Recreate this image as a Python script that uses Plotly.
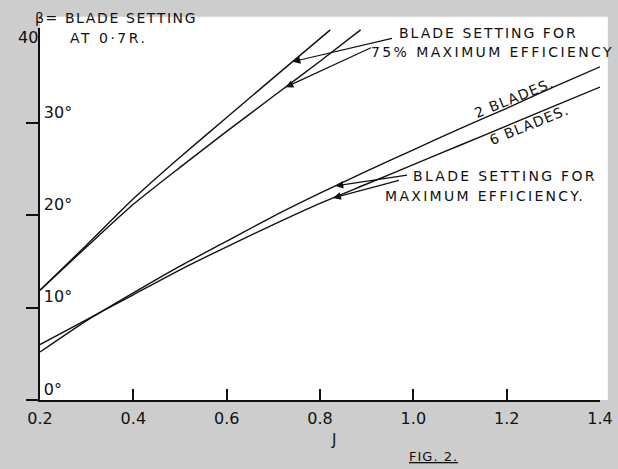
import numpy as np
import plotly.graph_objects as go

# ---- data ----
J_MAX = [0.2, 0.3, 0.4, 0.5, 0.6, 0.7, 0.8, 0.9, 1.0, 1.1, 1.2, 1.3, 1.4]
BETA_MAX_2 = [5.2, 8.6, 11.6, 14.5, 17.2, 19.9, 22.4, 24.8, 27.1, 29.4, 31.6, 33.9, 36.1]
BETA_MAX_6 = [6.0, 8.7, 11.4, 14.1, 16.6, 19.0, 21.3, 23.4, 25.5, 27.6, 29.7, 31.8, 33.9]

J_75_A = [0.2, 0.3, 0.4, 0.5, 0.6, 0.7, 0.822]
BETA_75_A = [11.9, 16.8, 21.8, 26.3, 30.6, 34.9, 40.1]
J_75_B = [0.2, 0.3, 0.4, 0.5, 0.6, 0.7, 0.8, 0.887]
BETA_75_B = [11.9, 16.6, 21.2, 25.2, 29.1, 32.9, 36.7, 40.1]

X_TICKS = [0.2, 0.4, 0.6, 0.8, 1.0, 1.2, 1.4]
X_TICK_TEXT = ["0.2", "0.4", "0.6", "0.8", "1.0", "1.2", "1.4"]
Y_TICKS = [0, 10, 20, 30]
Y_TICK_TEXT = ["0°", "10°", "20°", "30°"]

FONT = "DejaVu Sans"
INK = "#111111"
PAPER = "#cdcdcd"

fig = go.Figure()
line_style = dict(color=INK, width=1.4, shape="spline", smoothing=0.6)
for name, xs, ys in [
    ("2 blades, max efficiency", J_MAX, BETA_MAX_2),
    ("6 blades, max efficiency", J_MAX, BETA_MAX_6),
    ("75% max efficiency (a)", J_75_A, BETA_75_A),
    ("75% max efficiency (b)", J_75_B, BETA_75_B),
]:
    fig.add_trace(go.Scatter(x=xs, y=ys, mode="lines", name=name,
                             line=line_style, hoverinfo="skip"))


def spaced(t, ls=2):
    return f'<span style="letter-spacing:{ls}px">{t}</span>'


def txt(text, x, y, size=14, xanchor="left", angle=0, xref="x", yref="y", ls=2):
    fig.add_annotation(text=spaced(text, ls), x=x, y=y, xref=xref, yref=yref,
                       xanchor=xanchor, yanchor="middle", showarrow=False,
                       textangle=angle, font=dict(family=FONT, size=size, color=INK))


txt("β= BLADE SETTING", -0.0125, 1.028, xref="paper", yref="paper", ls=1.6)
txt("AT 0·7R.", 0.260, 39.27, ls=2.5)
txt("40", 0.2, 39.3, size=16, xanchor="right", ls=0)
txt("BLADE SETTING FOR", 0.966, 39.76, ls=2.0)
txt("75% MAXIMUM EFFICIENCY", 0.904, 37.65, ls=2.4)
txt("2 BLADES.", 1.215, 32.72, xanchor="center", angle=-22, ls=1.2)
txt("6 BLADES.", 1.247, 29.79, xanchor="center", angle=-22, ls=1.2)
txt("BLADE SETTING FOR", 0.994, 24.27, ls=2.3)
txt("MAXIMUM EFFICIENCY.", 0.934, 22.1, ls=2.3)
txt("J", 0.829, -0.1075, size=15, xanchor="center", yref="paper", ls=0)
txt("<u>FIG. 2.</u>", 1.043, -0.153, size=13, xanchor="center", yref="paper", ls=1)

# leader arrows: tips on curves, tails at the labels
arrows = [
    (J_75_A, BETA_75_A, 0.741, 0.9575, 39.22),
    (J_75_B, BETA_75_B, 0.726, 0.9124, 38.24),
    (J_MAX, BETA_MAX_2, 0.833, 0.9897, 24.38),
    (J_MAX, BETA_MAX_6, 0.828, 0.9725, 23.84),
]
for xs, ys, jt, ax, ay in arrows:
    fig.add_annotation(x=jt, y=float(np.interp(jt, xs, ys)), ax=ax, ay=ay,
                       xref="x", yref="y", axref="x", ayref="y", text="",
                       showarrow=True, arrowhead=2, arrowsize=1.3,
                       arrowwidth=1.2, arrowcolor=INK, standoff=0)

# white drawing area of the scanned sheet
fig.add_shape(type="rect", xref="paper", yref="paper", x0=0, x1=1.014,
              y0=0, y1=1.03, fillcolor="white", line_width=0, layer="below")

fig.update_layout(
    width=618, height=469,
    margin=dict(l=40, r=18, t=28, b=69, autoexpand=False),
    paper_bgcolor=PAPER, plot_bgcolor="white",
    showlegend=False,
    font=dict(family=FONT, color=INK),
    xaxis=dict(range=[0.2, 1.4], tickvals=X_TICKS, ticktext=X_TICK_TEXT,
               ticks="inside", ticklen=11, tickwidth=1.5, tickcolor=INK,
               ticklabelstandoff=3,
               showline=True, linecolor=INK, linewidth=2, showgrid=False,
               zeroline=False, automargin=False,
               tickfont=dict(size=16, family=FONT, color=INK)),
    yaxis=dict(range=[0, 40.3], tickvals=Y_TICKS, ticktext=Y_TICK_TEXT,
               ticks="outside", ticklen=12, tickwidth=1.5, tickcolor=INK,
               ticklabelposition="inside", ticklabelshift=-11,
               ticklabelstandoff=4,
               ticklabeloverflow="allow", automargin=False,
               showline=True, linecolor=INK, linewidth=2, showgrid=False,
               zeroline=False, tickfont=dict(size=16, family=FONT, color=INK)),
)

fig.write_html("out.html", config={"displayModeBar": False},
               post_script="document.body.style.margin='0';"
                           "document.body.style.background='%s';" % PAPER)
